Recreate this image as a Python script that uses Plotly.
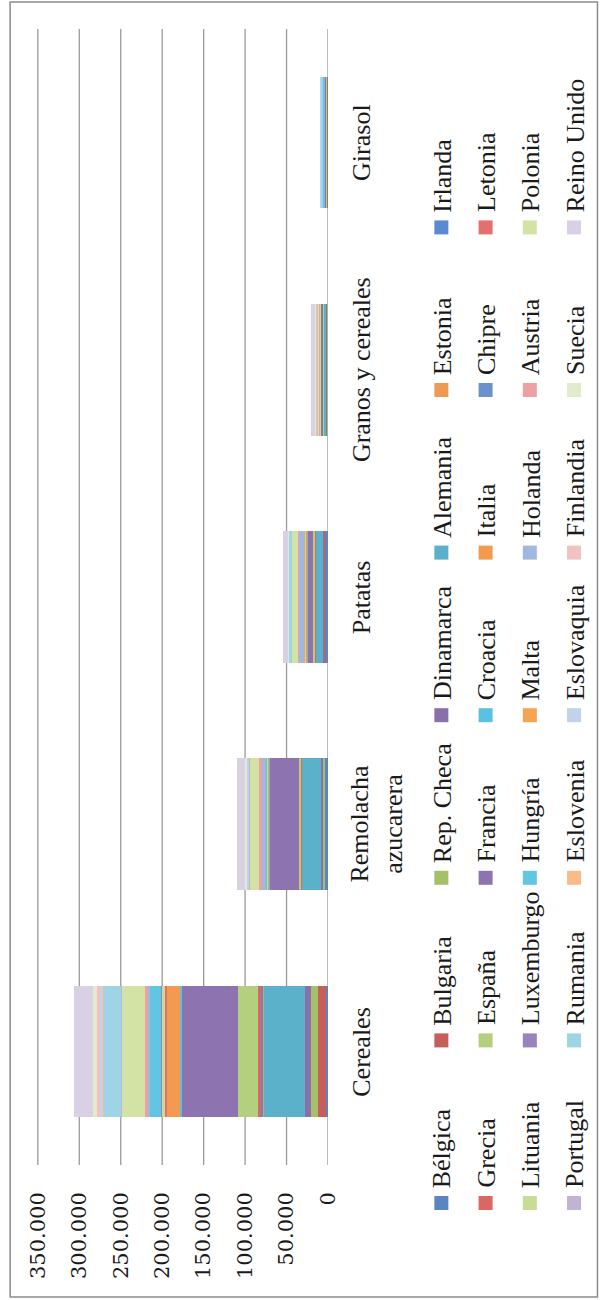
import plotly.graph_objects as go

# ---------------- data (thousand tonnes) ----------------
categories = ["Cereales", "Remolacha azucarera", "Patatas", "Granos y cereales", "Girasol"]
category_labels = ["Cereales", "Remolacha<br>azucarera", "Patatas", "Granos y cereales", "Girasol"]

countries = ["Bélgica", "Bulgaria", "Rep. Checa", "Dinamarca", "Alemania", "Estonia", "Irlanda",
             "Grecia", "España", "Francia", "Croacia", "Italia", "Chipre", "Letonia",
             "Lituania", "Luxemburgo", "Hungría", "Malta", "Holanda", "Austria", "Polonia",
             "Portugal", "Rumania", "Eslovenia", "Eslovaquia", "Finlandia", "Suecia", "Reino Unido"]

cereales = [3000, 9500, 7500, 8000, 50000, 1000, 2000,
            3000, 25000, 67000, 3000, 16000, 100, 2000,
            4000, 170, 14000, 10, 1500, 4500, 28000,
            1000, 21000, 600, 3500, 3600, 5000, 22000]
remolacha = [3500, 0, 3000, 2000, 24000, 0, 0,
             200, 2500, 35000, 1000, 1800, 0, 0,
             900, 0, 700, 0, 5600, 3000, 12000,
             100, 1000, 0, 1500, 500, 2200, 9000]
patatas = [3500, 200, 600, 1600, 9000, 100, 300,
           800, 2200, 7000, 200, 1400, 100, 500,
           500, 20, 450, 10, 6800, 650, 7600,
           450, 3300, 70, 150, 550, 800, 5000]
granos = [300, 400, 600, 700, 3000, 100, 100,
          200, 700, 2500, 100, 500, 10, 200,
          600, 10, 400, 0, 300, 400, 2000,
          100, 1200, 50, 300, 500, 700, 5000]
girasol = [0, 1900, 50, 0, 30, 0, 0,
           150, 1000, 1600, 100, 250, 0, 0,
           0, 0, 1600, 0, 0, 70, 0,
           20, 2100, 0, 200, 0, 0, 0]

colors = ["#5B85C0", "#C55F5C", "#A4C16A", "#8A70AA", "#5BB0CA", "#EE9A57", "#5A8AD0",
          "#DB6662", "#B4CF7E", "#8D73AF", "#5BC1E0", "#F39A50", "#6A93CB", "#E36F6F",
          "#C8DC95", "#9A82BC", "#62C6E3", "#F6A352", "#A0B8DF", "#ECA2A2", "#D2E3A5",
          "#C2B3D4", "#9DD5E6", "#F9BB8C", "#C3D2EC", "#F2C2C2", "#E2EBCB", "#D9D0E5"]

value_ticks = [0, 50000, 100000, 150000, 200000, 250000, 300000, 350000]
value_max = 351000  # a hair beyond the last tick

# ---------------- geometry (pixels) ----------------
W, H = 600, 1300
ZERO_PX, TOP_TICK_PX = 327.7, 37.7
PW = (ZERO_PX - TOP_TICK_PX) * value_max / value_ticks[-1]
L = ZERO_PX - PW
R = W - ZERO_PX
T, B = 29, 135
PH = H - T - B


def px2x(px):
    return (px - L) / PW


def py2y(py):
    return (H - B - py) / PH


TEXT_FONT = "Liberation Serif"
TEXT_COLOR = "#1a1a1a"
GRID_COLOR = "#9a9a9a"

fig = go.Figure()
series_by_cat = [cereales, remolacha, patatas, granos, girasol]
for i, name in enumerate(countries):
    fig.add_trace(go.Bar(
        name=name,
        y=categories,
        x=[s[i] for s in series_by_cat],
        orientation="h",
        marker=dict(color=colors[i], line=dict(width=0)),
        showlegend=False,
        hoverinfo="skip",
    ))

fig.update_layout(
    width=W, height=H,
    margin=dict(l=L, r=R, t=T, b=B, pad=0),
    barmode="stack",
    bargap=0.42,
    paper_bgcolor="white",
    plot_bgcolor="white",
    separators=",.",
    showlegend=False,
)

fig.update_xaxes(
    range=[value_max, 0],
    tickvals=value_ticks,
    tickformat=",d",
    tickangle=-90,
    tickfont=dict(family="DejaVu Serif", size=21, color=TEXT_COLOR),
    ticks="",
    ticklabelstandoff=22,
    showgrid=False,
    zeroline=False,
    showline=False,
)
fig.update_yaxes(
    categoryorder="array",
    categoryarray=categories,
    showticklabels=False,
    showgrid=False,
    zeroline=False,
    showline=False,
)

annotations = []
shapes = []

# value gridlines, one per tick value
for v in value_ticks:
    shapes.append(dict(
        type="line", xref="x", yref="paper",
        x0=v, x1=v, y0=0, y1=1,
        line=dict(color=GRID_COLOR, width=1.3),
        layer="below",
    ))

# category labels (rotated)
for cat, lab in zip(categories, category_labels):
    cx = 376 if "<br>" in lab else 361
    annotations.append(dict(
        x=px2x(cx), xref="paper", y=cat, yref="y",
        text=lab, textangle=-90, showarrow=False,
        xanchor="center", yanchor="middle",
        font=dict(family=TEXT_FONT, size=26, color=TEXT_COLOR),
    ))

# legend (rotated, 4 columns x 7 entries)
col_x0, col_step = 441, 44.2
row_y0, row_step = 1203, -162.6
msize = 14
for i, name in enumerate(countries):
    col, row = i // 7, i % 7
    cx = col_x0 + col * col_step
    cy = row_y0 + row * row_step
    shapes.append(dict(
        type="rect", xref="paper", yref="paper",
        x0=px2x(cx - msize / 2), x1=px2x(cx + msize / 2),
        y0=py2y(cy + msize / 2), y1=py2y(cy - msize / 2),
        fillcolor=colors[i], line=dict(width=0),
    ))
    annotations.append(dict(
        x=px2x(cx + 1), xref="paper", y=py2y(cy - 13), yref="paper",
        text=name, textangle=-90, showarrow=False,
        xanchor="center", yanchor="bottom",
        font=dict(family=TEXT_FONT, size=26, color=TEXT_COLOR),
    ))

# outer chart border
shapes.append(dict(
    type="rect", xref="paper", yref="paper",
    x0=px2x(10), x1=px2x(597), y0=py2y(1297), y1=py2y(2),
    line=dict(color="#8c8c8c", width=1.5), fillcolor="rgba(0,0,0,0)",
    layer="below",
))

fig.update_layout(annotations=annotations, shapes=shapes)

fig.write_html("out.html", config={"displayModeBar": False},
               post_script="document.body.style.margin='0';")
